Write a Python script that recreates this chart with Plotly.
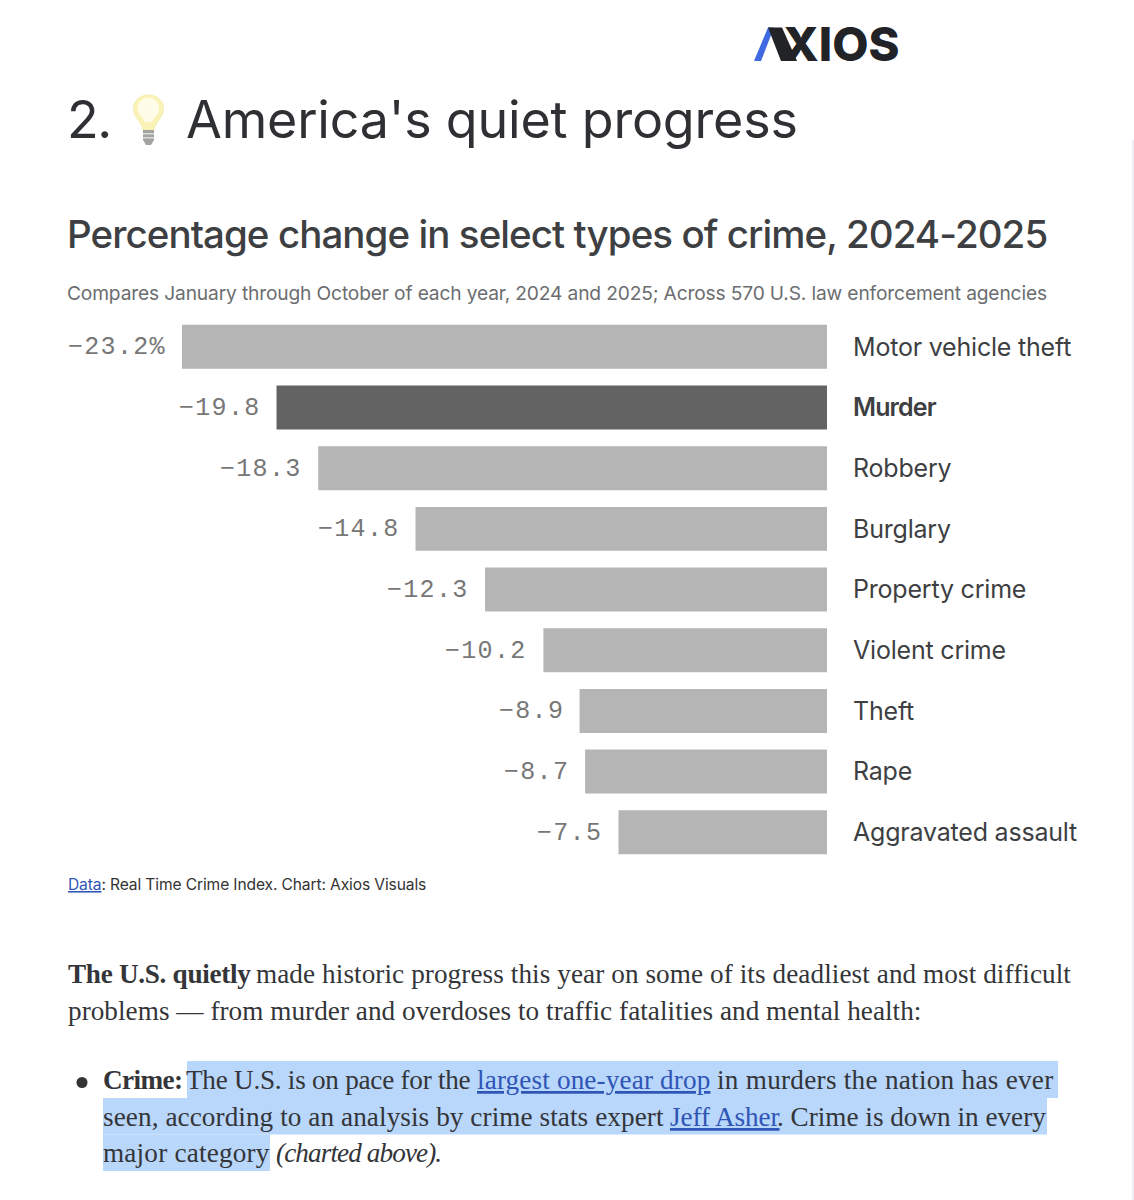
import plotly.graph_objects as go

categories = ["Motor vehicle theft", "Murder", "Robbery", "Burglary", "Property crime",
              "Violent crime", "Theft", "Rape", "Aggravated assault"]
values = [-23.2, -19.8, -18.3, -14.8, -12.3, -10.2, -8.9, -8.7, -7.5]
highlight = "Murder"

W, H = 1134, 1200
def px(x): return x / W
def py(y): return 1 - y / H

SANS = "Inter, Roboto, sans-serif"
SERIF = "Liberation Serif, serif"
MONO = "Liberation Mono, monospace"
LINK = "#2f55b5"
INK = "#333538"

def link(t):
    return f'<span style="text-decoration:underline;fill:{LINK}">{t}</span>'

def sp(t, ls):
    return f'<span style="letter-spacing:{ls}px">{t}</span>'

B = 27.2
texts = [
    (65.5, 120, sp("2.", -1.5), 52, "#2e3033", SANS, 400),
    (184.5, 120, sp("America's quiet progress", -0.2), 52, "#2e3033", SANS, 400),
    (65.5, 234, sp("Percentage change in select types of crime, 2024-2025", -0.93), 38.5, "#3d3f42", SANS, 500),
    (66, 293, sp("Compares January through October of each year, 2024 and 2025; Across 570 U.S. law enforcement agencies", -0.155), 19.2, "#6b6d70", SANS, 400),
    (67, 884.5, sp(link("Data") + ": Real Time Crime Index. Chart: Axios Visuals", -0.13), 15.6, "#333333", SANS, 400),
    (66.5, 974, sp("<b>The U.S. quietly</b>", -0.3), B, INK, SERIF, 400),
    (255, 974, sp("made historic progress this year on some of its deadliest and most difficult", 0.08), B, INK, SERIF, 400),
    (66.5, 1011, sp("problems — from murder and overdoses to traffic fatalities and mental health:", 0.04), B, INK, SERIF, 400),
    (101.5, 1080, sp("<b>Crime:</b>", -0.6), B, INK, SERIF, 400),
    (185, 1080, sp("The U.S. is on pace for the", -0.26), B, INK, SERIF, 400),
    (476, 1080, sp(link("largest one-year drop"), 0.14), B, INK, SERIF, 400),
    (716, 1080, sp("in murders the nation has ever", 0.27), B, INK, SERIF, 400),
    (101.5, 1117, sp("seen, according to an analysis by crime stats expert", 0.08), B, INK, SERIF, 400),
    (669, 1117, sp(link("Jeff Asher"), -0.1), B, INK, SERIF, 400),
    (776, 1117, ". Crime is down in every", B, INK, SERIF, 400),
    (101.5, 1153, sp("major category", 0.2), B, INK, SERIF, 400),
    (275, 1153, sp("<i>(charted above).</i>", -0.9), B, INK, SERIF, 400),
    (782, 44, "XIOS", 47, "#222326", SANS, 800),
]

annotations = [dict(xref="paper", yref="paper", x=px(x), y=py(y), text=t, showarrow=False,
                    xanchor="left", yanchor="middle", borderpad=0,
                    font=dict(size=s, color=c, family=f, weight=wt))
               for x, y, t, s, c, f, wt in texts]

for i, (cat, v) in enumerate(zip(categories, values)):
    label = f"−{abs(v):.1f}" + ("%" if i == 0 else "")
    annotations.append(dict(xref="x", yref="y", x=v, y=cat, text=sp(label, 1.3), showarrow=False,
                            xanchor="right", yanchor="middle", xshift=-15, yshift=-1, borderpad=0,
                            font=dict(size=25, color="#777777", family=MONO)))

def poly(points, color):
    d = "M" + " L".join(f"{px(x):.5f},{py(y):.5f}" for x, y in points) + " Z"
    return dict(type="path", xref="paper", yref="paper", path=d, fillcolor=color, line_width=0, layer="above")

def rect(x0, y0, x1, y1, color, layer="below"):
    return dict(type="rect", xref="paper", yref="paper", x0=px(x0), x1=px(x1), y0=py(y0), y1=py(y1),
                fillcolor=color, line_width=0, layer=layer)

def curve(d_points, color, line=None):
    parts = []
    for cmd, pts in d_points:
        parts.append(cmd + " ".join(f"{px(x):.5f},{py(y):.5f}" for x, y in pts))
    return dict(type="path", xref="paper", yref="paper", path=" ".join(parts) + " Z", fillcolor=color,
                line=dict(width=1 if line else 0, color=line or color), layer="above")

HL = "#b9d6fb"
shapes = [
    rect(187, 1061, 1058, 1098, HL),
    rect(103, 1098, 1047, 1134.5, HL),
    rect(103, 1134.5, 270, 1171, HL),
    rect(1132, 140, 1134, 1200, "#eeeff5"),
    dict(type="circle", xref="paper", yref="paper", x0=px(76.5), x1=px(87.5), y0=py(1088), y1=py(1077),
         fillcolor="#333333", line_width=0),
    poly([(754, 61), (768, 27.5), (774, 27.5), (761, 61)], "#4169e1"),
    poly([(768, 27.5), (782, 27.5), (797, 61), (781, 61)], "#222326"),
    # light bulb
    curve([("M", [(148.5, 95)]),
           ("C", [(138, 95), (133, 103), (133.5, 110)]),
           ("C", [(134.5, 118), (141, 121), (143, 130)]),
           ("L", [(154, 130)]),
           ("C", [(156, 121), (162.5, 118), (163.5, 110)]),
           ("C", [(164, 103), (159, 95), (148.5, 95)])], "#f9f3b8", "#f6eeb0"),
    curve([("M", [(148.5, 98)]),
           ("C", [(141, 98), (137, 104), (138, 110)]),
           ("C", [(139, 115), (143, 117), (145, 122)]),
           ("L", [(152, 122)]),
           ("C", [(154, 117), (158, 115), (159, 110)]),
           ("C", [(160, 104), (156, 98), (148.5, 98)])], "#fffdea"),
    poly([(143, 130), (154, 130), (154, 140), (151, 145), (146, 145), (143, 140)], "#a3a3a0"),
    poly([(143, 133), (154, 133), (154, 134.5), (143, 134.5)], "#dcdcd8"),
    poly([(143, 137), (154, 137), (154, 138.5), (143, 138.5)], "#dcdcd8"),
]

fig = go.Figure(go.Bar(
    x=values, y=categories, orientation="h",
    marker=dict(color=["#636363" if c == highlight else "#b5b5b5" for c in categories], line_width=0),
    hoverinfo="skip",
))

tick_text = [f'<span style="font-weight:600;letter-spacing:-0.9px">{c}</span>' if c == highlight else sp(c, -0.2)
             for c in categories]
fig.update_layout(
    width=W, height=H, margin=dict(l=0, r=0, t=0, b=0), autosize=False,
    paper_bgcolor="white", plot_bgcolor="white", showlegend=False, bargap=0.275,
    annotations=annotations, shapes=shapes,
    xaxis=dict(domain=[px(182), px(827)], range=[-23.2, 0], visible=False, fixedrange=True),
    yaxis=dict(domain=[py(862.6), py(316.5)], autorange="reversed", side="right", anchor="x",
               tickmode="array", tickvals=categories, ticktext=tick_text, showgrid=False, zeroline=False,
               showline=False, ticks="", ticklabelstandoff=25, fixedrange=True,
               tickfont=dict(size=25, color="#3d3f42", family=SANS)),
)

fig.write_html("out.html", config=dict(displayModeBar=False),
               post_script="document.body.style.margin='0';document.documentElement.style.overflow='hidden';")
